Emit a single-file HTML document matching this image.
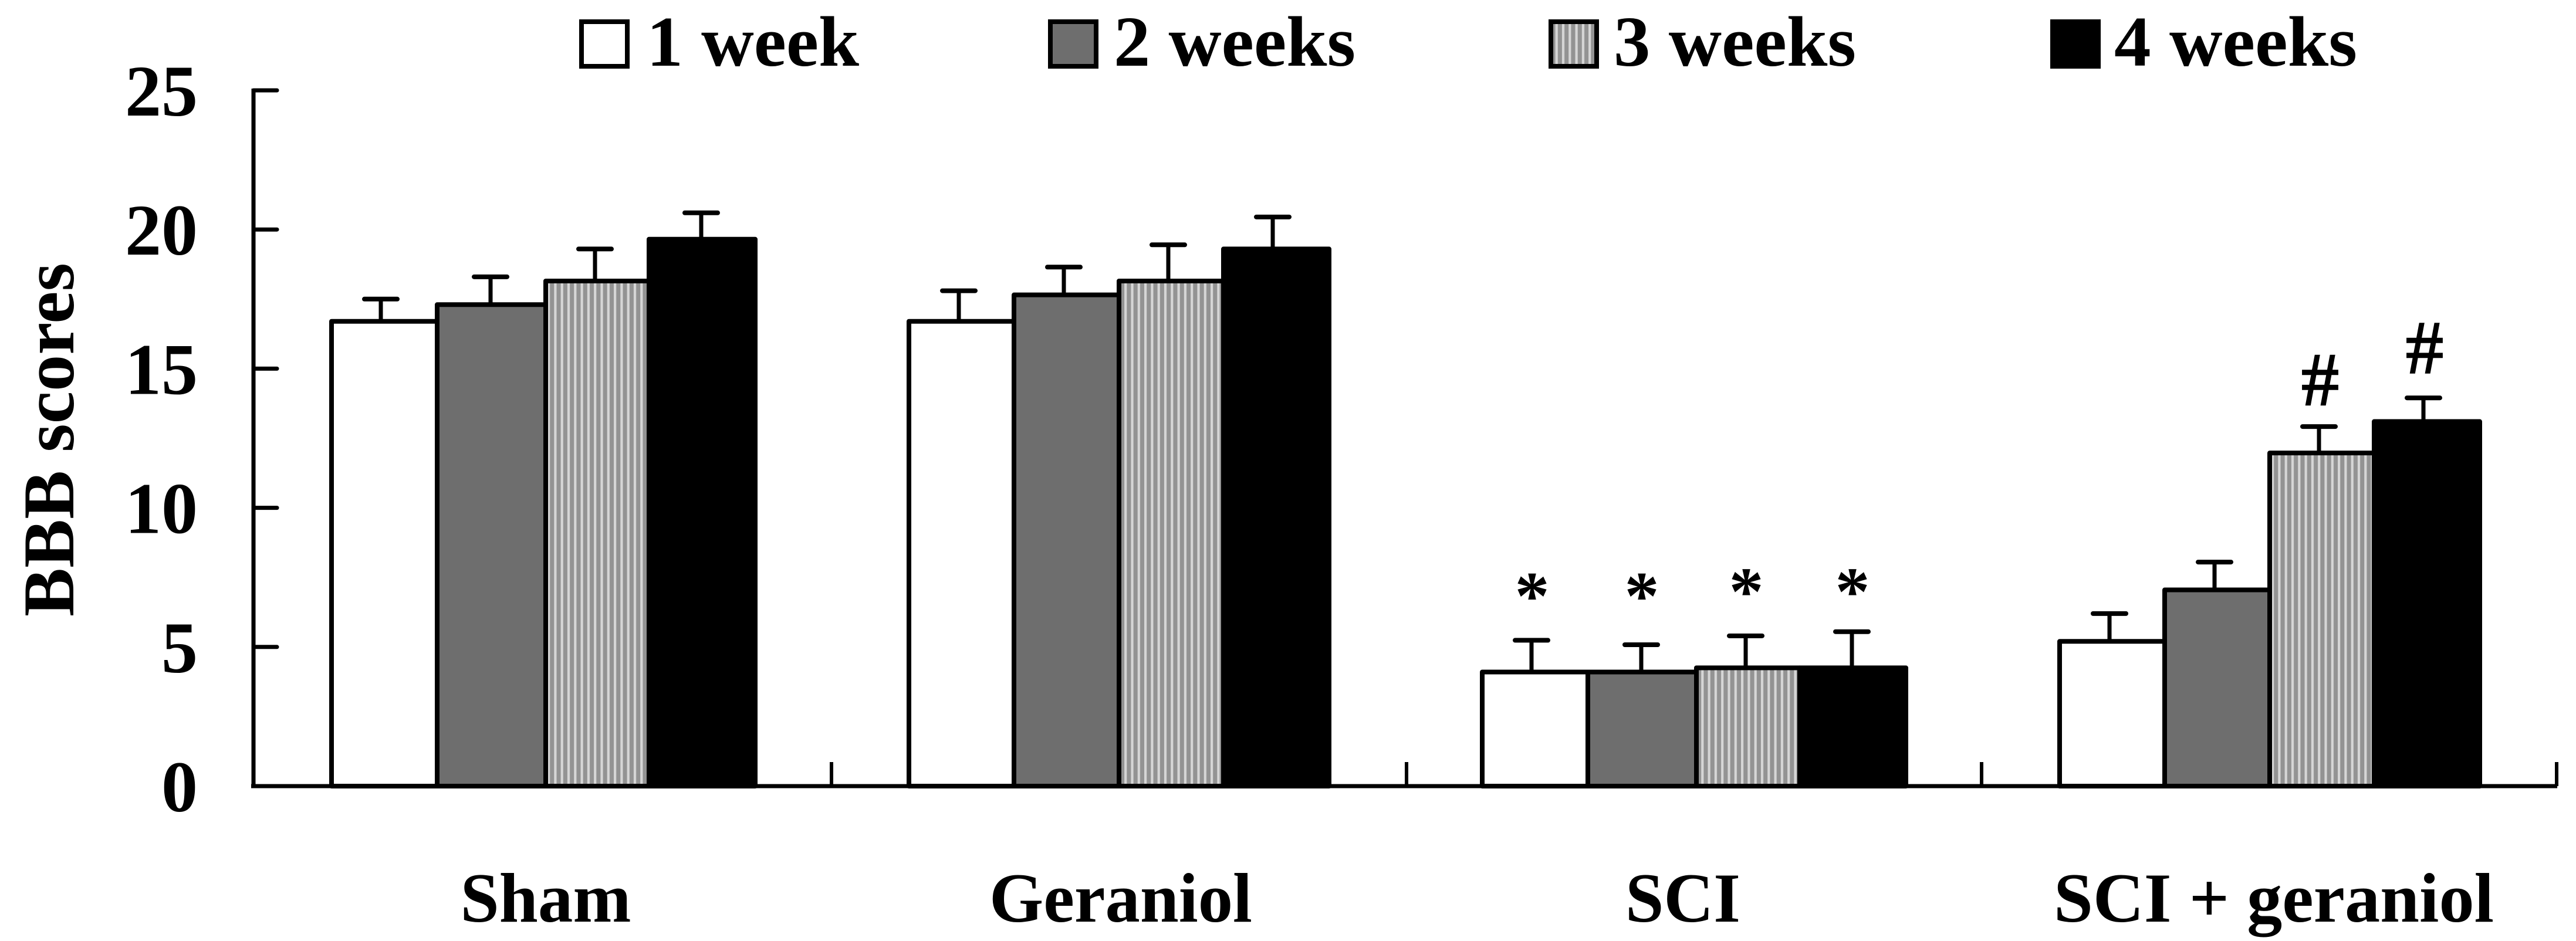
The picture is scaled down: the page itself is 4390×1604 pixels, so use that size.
<!DOCTYPE html>
<html lang="en">
<head>
<meta charset="utf-8">
<title>BBB scores chart</title>
<style>
html,body{margin:0;padding:0;background:#fff;}
svg{display:block;}
text{font-family:"Liberation Serif",serif;fill:#000;}
</style>
</head>
<body>
<svg id="chart" xmlns="http://www.w3.org/2000/svg" width="4390" height="1604" viewBox="0 0 4390 1604">
<defs>
<pattern id="stripes" patternUnits="userSpaceOnUse" x="933" y="0" width="11.3" height="10">
<rect width="11.3" height="10" fill="#d6d6d6"/>
<rect x="4.2" width="7.1" height="10" fill="#939393"/>
</pattern>
</defs>
<rect width="4390" height="1604" fill="#fff"/>
<g id="marks"></g>
<g id="axes"></g>
<g id="legend"></g>
<text transform="translate(125 1051) rotate(-90)" font-size="124" font-weight="700" textLength="603" lengthAdjust="spacingAndGlyphs">BBB scores</text>
</svg>
<script>
const categories = ["Sham", "Geraniol", "SCI", "SCI + geraniol"];
const seriesNames = ["1 week", "2 weeks", "3 weeks", "4 weeks"];
const week1 = [16.7, 16.7, 4.1, 5.2];
const week2 = [17.3, 17.65, 4.1, 7.05];
const week3 = [18.15, 18.15, 4.25, 11.97];
const week4 = [19.65, 19.3, 4.25, 13.1];
const week1Err = [0.8, 1.1, 1.14, 1.0];
const week2Err = [1.0, 1.0, 0.98, 1.0];
const week3Err = [1.15, 1.3, 1.15, 0.95];
const week4Err = [0.95, 1.15, 1.3, 0.85];
const yTicks = [0, 5, 10, 15, 20, 25];
const asteriskLevels = [6.0, 6.0, 6.15, 6.15];
const hashLevels = [13.7, 14.85];

const NS = "http://www.w3.org/2000/svg";
const values = [week1, week2, week3, week4];
const errors = [week1Err, week2Err, week3Err, week4Err];
const fills = ["#fff", "#6e6e6e", "url(#stripes)", "#000"];
const Y0 = 1340, Y25 = 154;
const groupLeft = [565, 1549, 2526, 3510];
const wideEdges = [0, 180, 365, 541, 722];
const narrowEdges = [0, 179, 358, 536, 716];
const wideStems = [84, 271, 449, 630];
const narrowStems = [85, 264, 442, 620];
function y(v){ return Y0 - (Y0 - Y25) * v / 25; }
function edges(g){ return g % 2 === 0 ? wideEdges : narrowEdges; }
function barX(g, s){ return groupLeft[g] + edges(g)[s]; }
function barW(g, s){ return edges(g)[s + 1] - edges(g)[s]; }
function stemX(g, s){ return groupLeft[g] + (g % 2 === 0 ? wideStems : narrowStems)[s]; }
function make(tag, attrs, parent, txt){
  const el = document.createElementNS(NS, tag);
  for (const k in attrs) el.setAttribute(k, attrs[k]);
  if (txt !== undefined) el.textContent = txt;
  parent.appendChild(el);
  return el;
}
const marks = document.getElementById("marks");
const axes = document.getElementById("axes");
const legend = document.getElementById("legend");

/* bars and error bars */
categories.forEach((cat, g) => {
  seriesNames.forEach((name, s) => {
    const slug = cat.toLowerCase().replace(/[^a-z]+/g, "-") + "-" + (s + 1) + "w";
    const top = y(values[s][g] + errors[s][g]);
    const stem = make("line", {x1: stemX(g, s), x2: stemX(g, s), y1: y(values[s][g]), y2: top, stroke: "#000", "stroke-width": 7}, marks);
    
    
    const cap = make("line", {x1: stemX(g, s) - 28, x2: stemX(g, s) + 28, y1: top, y2: top, stroke: "#000", "stroke-width": 8, "stroke-linecap": "round"}, marks);
    
    
    const bar = make("rect", {x: barX(g, s), y: y(values[s][g]), width: barW(g, s), height: Y0 - y(values[s][g]), fill: fills[s], stroke: "#000", "stroke-width": 8, "stroke-linejoin": "round"}, marks);
    
    
  });
  /* category label, centred under the group */
  const labelCenter = [930, 1910, 2868, 3875][g];
  const labelWidth = [291, 448, 196, 750][g];
  const label = make("text", {x: labelCenter - labelWidth / 2, y: 1571, "font-size": 120, "font-weight": 700, textLength: labelWidth, lengthAdjust: "spacingAndGlyphs"}, axes, cat);
  
  
});

/* significance markers */
asteriskLevels.forEach((lv, s) => {
  const m = make("text", {x: stemX(2, s) + 1, y: y(lv), "font-size": 118, "font-weight": 700, "text-anchor": "middle"}, marks, "*");
  
  
});
hashLevels.forEach((lv, i) => {
  const m = make("text", {x: stemX(3, i + 2) + 2, y: y(lv), "font-size": 128, "text-anchor": "middle", stroke: "#000", "stroke-width": 2.5}, marks, "#");
  
  
});

/* axes */
const yAxis = make("line", {x1: 432, x2: 432, y1: Y25 - 3, y2: Y0 + 3, stroke: "#000", "stroke-width": 7}, axes);


const xAxis = make("line", {x1: 428, x2: 4358, y1: Y0, y2: Y0, stroke: "#000", "stroke-width": 7}, axes);


yTicks.forEach(t => {
  if (t > 0) {
    const tick = make("line", {x1: 432, x2: 472, y1: y(t), y2: y(t), stroke: "#000", "stroke-width": 7, "stroke-linecap": "round"}, axes);
    
    
  }
  const lab = make("text", {x: 337, y: y(t) + 43, "font-size": 124, "font-weight": 700, "text-anchor": "end"}, axes, String(t));
  
  
});
for (let i = 1; i <= categories.length; i++) {
  const tx = 437 + 980 * i;
  const tick = make("line", {x1: tx, x2: tx, y1: 1299, y2: Y0, stroke: "#000", "stroke-width": 6}, axes);
  
  
}

/* legend */
const swatchX = [991, 1790, 2643, 3498];
const legendTextX = [1102, 1898, 2750, 3603];
const legendTextW = [362, 412, 413, 414];
seriesNames.forEach((name, s) => {
  const swatch = make("rect", {x: swatchX[s], y: 37, width: 78, height: 76, fill: fills[s], stroke: "#000", "stroke-width": 8}, legend);
  
  
  const t = make("text", {x: legendTextX[s], y: 112, "font-size": 122, "font-weight": 700, textLength: legendTextW[s], lengthAdjust: "spacingAndGlyphs"}, legend, name);
  
  
});
</script>
</body>
</html>
